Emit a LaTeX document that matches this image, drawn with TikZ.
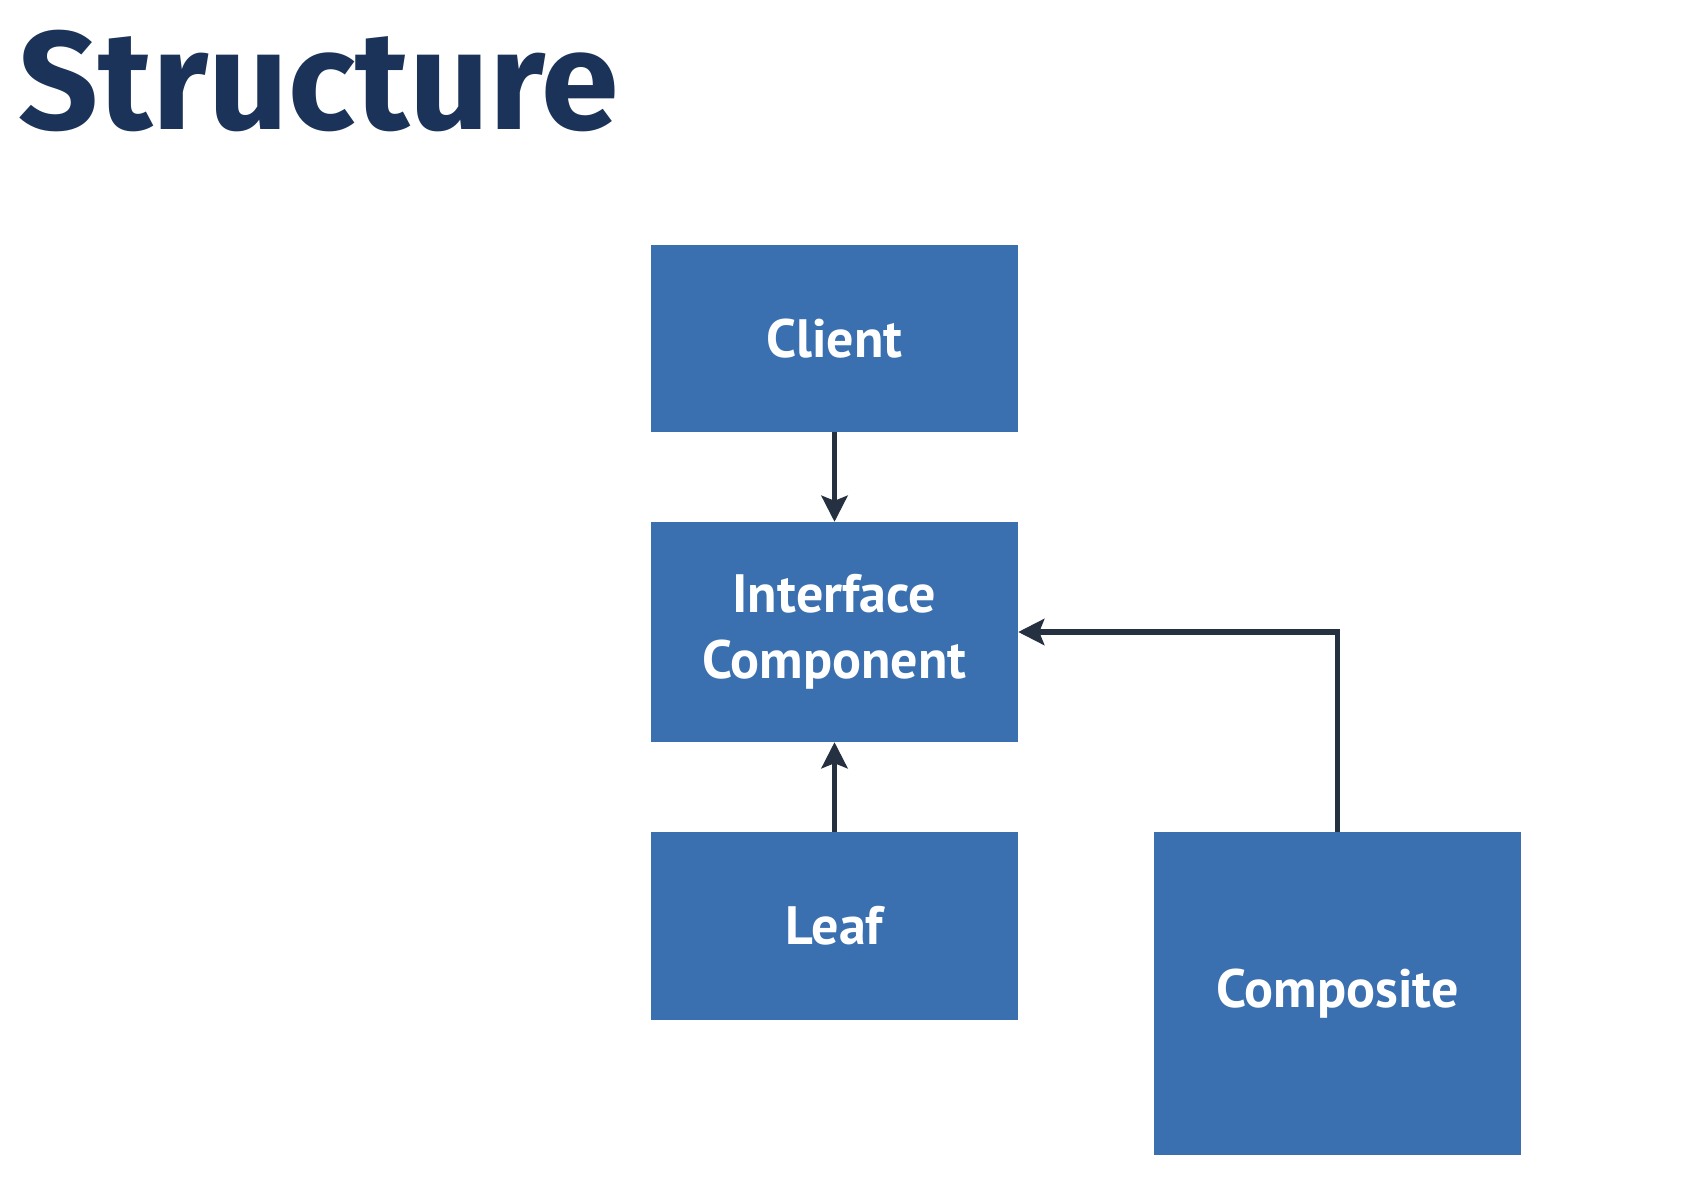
\documentclass[tikz,border=0pt]{standalone}
\usepackage{fontspec}
\setmainfont{Fira Sans}
\newfontfamily\boxfont{PT Sans}
\usetikzlibrary{arrows.meta,positioning}
\definecolor{boxblue}{HTML}{3A70B0}
\definecolor{titlenavy}{HTML}{1B3358}
\definecolor{arrowdark}{HTML}{253040}
\tikzset{
  classbox/.style={fill=boxblue, draw=none, text=white, minimum width=367pt,
    align=center, font=\boxfont\fontsize{54}{66}\selectfont\bfseries, inner sep=0pt},
  assoc/.style={draw=arrowdark, line width=5.5pt, -{Stealth[length=26pt,width=26pt,inset=5pt]}}
}
\begin{document}
\begin{tikzpicture}[x=1pt, y=-1pt]
  % Hintergrund und Rahmen
  \fill[white] (0,0) rectangle (1690,1177);
  \useasboundingbox (0,0) rectangle (1690,1177);

  % Titel
  \node[anchor=base west, inner sep=0pt, text=titlenavy,
    font=\fontsize{140}{160}\selectfont\bfseries] (title) at (18,130) {Structure};

  % Klassen
  \node[classbox, minimum height=187pt] (client) at (834.5,338.5) {Client};
  \node[classbox, minimum height=220pt] (iface) at (834.5,632) {Interface\\Component};
  \node[classbox, minimum height=188pt] (leaf) at (834.5,926) {Leaf};
  \node[classbox, minimum height=323pt] (comp) at (1337.5,993.5) {Composite};

  % Beziehungen
  \draw[assoc] (client) -- (iface);
  \draw[assoc] (leaf) -- (iface);
  \draw[assoc] (comp.north) |- (iface.east);

\end{tikzpicture}
\end{document}
